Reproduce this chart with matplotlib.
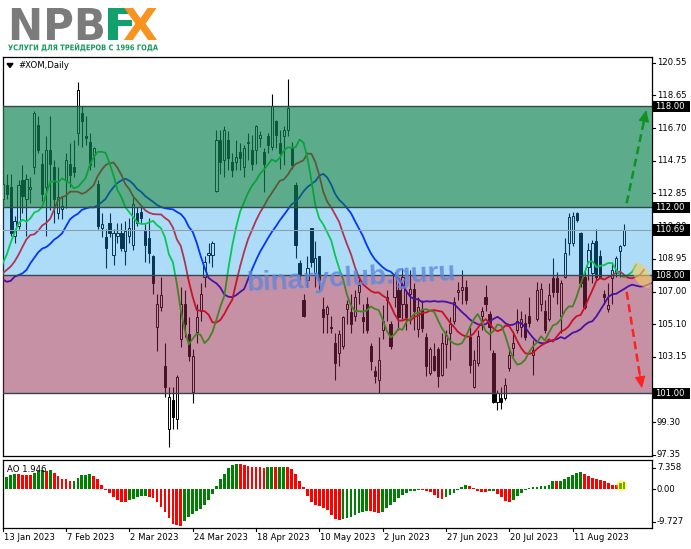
import numpy as np
import matplotlib
matplotlib.use("Agg")
import matplotlib.pyplot as plt
from matplotlib.patches import Rectangle, Ellipse, Circle, PathPatch, Polygon
from matplotlib.textpath import TextPath
from matplotlib.font_manager import FontProperties
from matplotlib.transforms import Affine2D

W, H, DPI = 691, 549, 100

# ---------------- data ----------------
symbol = "#XOM,Daily"
date_labels = ["13 Jan 2023", "7 Feb 2023", "2 Mar 2023", "24 Mar 2023", "18 Apr 2023",
               "10 May 2023", "2 Jun 2023", "27 Jun 2023", "20 Jul 2023", "11 Aug 2023"]
date_bars = [0, 16, 32, 48, 64, 80, 96, 112, 128, 144]

opens = [112.5,113.3,113.2,110.3,110.9,113.6,112.5,113.1,114.4,116.9,
         114.6,113.2,115.4,114.4,111.7,111.9,113.6,114.6,114.4,116.4,
         117.6,116.2,115.9,115.1,113.4,110.8,110.27,111.1,109.2,110.3,
         110.5,109.4,110.3,109.8,111.7,111.75,110.6,110.2,109.1,104.9,
         106.1,102.6,98.9,100.6,99.5,104.2,106.3,104.5,101.1,104.6,
         105.9,107.9,109.2,109.2,113.0,116.0,114.8,116.0,114.7,114.7,
         115.3,114.4,115.8,115.4,115.4,116.1,115.3,116.2,115.6,117.1,
         115.8,116.2,116.6,115.5,113.3,108.7,106.5,107.7,110.8,108.1,
         109.1,106.0,105.7,104.9,103.96,103.4,103.8,106.0,105.8,105.6,
         107.0,105.5,106.3,103.8,102.3,101.8,104.75,106.5,105.1,106.7,
         107.1,106.3,106.3,106.9,107.2,104.8,106.0,104.35,102.2,103.2,
         103.6,102.1,103.9,104.55,105.3,107.0,107.1,107.3,104.35,101.4,
         102.8,105.6,106.7,105.7,103.37,100.5,100.7,100.7,102.5,103.66,
         104.75,104.9,105.14,105.6,103.27,105.4,106.3,105.9,105.4,107.8,
         107.8,105.6,107.9,109.9,109.9,111.65,110.47,107.9,108.5,108.1,
         110.0,109.1,106.9,106.0,107.8,108.1,109.4,109.8]
highs = [113.7,114.0,114.0,111.5,113.6,114.5,114.0,113.8,117.7,117.4,
         115.2,116.2,117.4,114.8,114.4,112.6,115.2,115.8,116.0,119.4,
         118.0,117.4,116.4,115.6,113.6,111.65,110.7,111.65,110.7,111.1,
         111.1,111.2,111.4,112.6,112.05,112.05,111.06,111.4,109.2,106.9,
         107.9,103.97,101.4,101.4,102.1,107.3,107.1,105.5,103.6,106.3,
         107.5,109.1,109.9,110.0,116.6,116.6,116.8,116.5,115.2,116.0,
         115.8,115.7,116.4,116.3,116.9,116.5,115.5,116.4,118.7,117.2,
         116.6,116.8,119.6,115.9,113.5,108.9,106.9,109.1,110.8,110.0,
         109.1,106.7,106.2,105.6,104.55,104.75,105.6,106.5,106.9,107.1,
         107.9,106.3,106.7,103.96,102.6,104.35,106.2,107.1,105.3,108.2,
         107.5,108.4,107.1,108.3,107.5,106.7,106.5,104.55,103.76,103.96,
         103.76,104.55,104.75,105.54,106.7,107.6,108.3,107.7,104.9,103.56,
         104.75,106.1,107.4,105.9,103.56,101.2,101.4,101.9,103.76,104.55,
         106.0,105.9,105.7,106.7,104.16,107.6,107.5,106.5,107.5,109.0,
         108.2,107.7,110.2,111.65,111.75,111.75,110.57,108.3,109.9,110.1,
         110.7,109.5,107.1,107.5,108.8,109.1,109.8,111.0]
lows = [112.2,112.5,110.3,109.9,110.7,111.7,110.3,112.25,114.0,115.2,
        112.4,110.3,111.85,111.1,111.3,111.3,111.95,113.2,113.8,115.7,
        115.6,115.7,114.2,114.4,110.7,110.27,108.4,110.27,108.6,109.9,
        109.4,108.6,109.9,109.5,110.9,111.06,108.8,108.7,106.9,103.5,
        105.9,100.78,97.85,98.9,98.9,103.75,104.35,102.9,100.4,103.96,
        105.3,107.3,108.7,108.5,112.9,114.0,113.8,114.2,113.8,114.2,
        114.2,113.8,114.8,114.2,114.6,115.6,112.9,115.2,115.4,115.5,
        114.3,114.5,116.2,114.3,109.0,107.7,105.5,107.3,108.5,107.3,
        107.1,104.55,104.55,104.55,101.8,102.6,103.6,105.1,104.55,105.3,
        106.3,104.55,104.55,102.4,101.6,101.0,104.2,105.3,103.6,106.1,
        104.75,105.4,104.75,105.1,104.75,104.35,104.65,102.0,102.09,102.3,
        101.4,102.0,102.5,102.97,105.1,106.5,106.3,106.3,102.2,101.3,
        102.6,104.75,105.9,103.56,100.4,100.0,100.1,100.6,102.3,103.2,
        104.55,104.35,104.16,104.95,102.09,105.3,105.9,104.55,105.3,106.7,
        106.3,104.55,107.8,109.2,109.7,111.16,107.3,106.0,107.7,107.5,
        107.7,107.8,106.3,105.8,106.3,107.9,107.9,109.7]
closes = [113.4,112.8,110.5,111.2,113.3,112.7,113.7,113.2,117.6,115.4,
          112.8,115.4,114.6,112.5,112.6,112.1,114.8,113.9,114.1,118.95,
          117.1,116.1,114.5,115.5,110.9,111.0,109.6,110.5,110.5,110.5,
          109.6,110.6,110.8,112.2,111.1,111.35,109.8,109.3,107.5,106.3,
          106.8,101.4,100.8,99.6,101.95,106.3,105.1,103.2,103.2,105.5,
          106.9,108.8,109.3,109.9,116.0,114.7,116.6,114.9,114.2,115.0,
          114.9,115.5,115.9,114.6,116.8,116.3,114.6,115.7,118.0,116.3,
          115.2,116.6,117.9,114.5,109.8,108.0,105.6,108.4,108.8,109.0,
          107.7,105.5,106.1,104.85,102.8,104.5,105.5,106.3,105.1,106.7,
          107.4,105.3,104.75,102.9,102.0,103.0,105.3,106.7,103.8,108.0,
          105.5,107.9,105.5,107.2,105.9,106.1,104.85,102.6,103.6,102.4,
          102.0,104.0,104.45,105.1,106.4,107.1,107.3,106.5,102.7,103.0,
          104.4,105.9,106.3,104.95,100.5,101.0,100.5,101.5,103.27,103.96,
          105.3,105.4,104.35,105.14,103.56,107.1,107.2,104.75,106.8,107.0,
          107.0,107.5,109.3,111.45,111.5,111.26,107.5,106.1,109.5,109.9,
          107.9,107.9,106.7,106.2,108.3,109.0,109.7,110.69]

# Alligator values visible at the left edge before the first computed point
lips_head = [108.7, 109.2, 109.9]                               # SMMA(5), shift 3
teeth_head = [108.1, 108.3, 108.5, 108.8, 109.2]                 # SMMA(8), shift 5
jaw_head = [107.75, 107.6, 107.65, 107.9, 108.0, 108.1, 108.3, 108.7]  # SMMA(13), shift 8

ao_values = [2.5, 3.1, 3.6, 3.8, 3.75, 3.6, 3.55, 3.5, 4.2, 4.6,
             4.8, 4.6, 4.9, 4.2, 3.3, 2.7, 2.5, 2.05, 2.2, 2.9,
             3.6, 3.7, 3.8, 3.3, 2.5, 1.2, -0.3, -0.95, -2.05, -2.6,
             -3.1, -3.15, -2.65, -2.4, -2.05, -1.8, -1.75, -2.0, -2.2, -3.1,
             -4.35, -5.6, -7.2, -8.6, -9.0, -9.1, -8.0, -6.9, -6.3, -5.45,
             -4.95, -3.9, -2.6, -1.2, 0.8, 2.5, 3.9, 5.3, 6.2, 6.3,
             6.28, 6.15, 5.9, 5.7, 5.65, 5.5, 5.45, 5.55, 5.65, 5.5,
             5.6, 5.7, 5.65, 5.05, 3.8, 2.2, 0.5, -1.8, -3.1, -3.95,
             -4.2, -4.6, -5.2, -6.5, -7.5, -7.6, -7.5, -7.3, -6.9, -6.5,
             -6.05, -5.6, -5.4, -5.45, -5.8, -6.05, -5.6, -4.8, -3.9, -3.1,
             -2.2, -1.55, -0.95, -0.5, -0.35, -0.2, -0.3, -0.5, -0.8, -1.35,
             -2.2, -2.5, -2.05, -1.55, -0.95, -0.1, 0.6, 1.0, 0.95, 0.35,
             -0.35, -0.7, -0.75, -0.5, -0.45, -1.2, -2.05, -2.9, -3.2, -2.6,
             -1.8, -0.95, -0.1, 0.35, 0.45, 0.6, 0.8, 0.95, 1.2, 2.05,
             2.0, 2.2, 2.7, 3.1, 3.6, 4.1, 4.4, 3.9, 3.3, 2.9,
             2.7, 2.4, 2.05, 1.6, 1.2, 1.15, 1.6, 1.946]

zone_levels = [118.00, 112.00, 108.00, 101.00]
bid_price = 110.69
price_ticks = [120.55, 118.65, 116.70, 114.75, 112.85, 110.90, 108.95, 107.00,
               105.10, 103.15, 99.30, 97.35]
ao_ticks = [7.358, 0.00, -9.727]

# ---------------- layout ----------------
MAIN_L, MAIN_R, MAIN_T, MAIN_B = 3, 652, 57, 456
AO_T, AO_B = 460, 528
Y_TOP, Y_BOT = 120.905, 97.29
X0, X1 = 0.076, 164.05

fig = plt.figure(figsize=(W / DPI, H / DPI), dpi=DPI)
fig.patch.set_facecolor("white")

ax = fig.add_axes([MAIN_L / W, 1 - MAIN_B / H, (MAIN_R - MAIN_L) / W, (MAIN_B - MAIN_T) / H])
aax = fig.add_axes([MAIN_L / W, 1 - AO_B / H, (MAIN_R - MAIN_L) / W, (AO_B - AO_T) / H])
ov = fig.add_axes([0, 0, 1, 1], zorder=10)
ov.set_xlim(0, W); ov.set_ylim(H, 0); ov.axis("off"); ov.patch.set_alpha(0)

for a in (ax, aax):
    a.set_xlim(X0, X1)
    a.set_xticks([]); a.set_yticks([])
    for s in a.spines.values():
        s.set_color("black"); s.set_linewidth(0.9)
ax.set_ylim(Y_BOT, Y_TOP)
aax.set_ylim(ao_ticks[2], ao_ticks[0])

o = np.array(opens); h = np.array(highs); l = np.array(lows); c = np.array(closes)
n = len(c)
x = np.arange(n)

# candles
ax.vlines(x, l, h, color="black", linewidth=0.8, zorder=2)
bull = c >= o
body_h = np.maximum(np.abs(c - o), 0.04)
ax.bar(x, body_h, bottom=np.minimum(o, c), width=0.55,
       color=np.where(bull, "white", "black"), edgecolor="black", linewidth=0.7, zorder=3)

# alligator (SMMA of median price)
median = (h + l) / 2
def smma(head, period, med):
    vals = list(head)
    prev = head[-1]
    for m in med:
        prev = (prev * (period - 1) + m) / period
        vals.append(prev)
    return np.array(vals)

jaw = smma(jaw_head, 13, median)
teeth = smma(teeth_head, 8, median)
lips = smma(lips_head, 5, median)
ax.plot(np.arange(len(jaw)), jaw, color="#0000ff", lw=1.3, zorder=4)
ax.plot(np.arange(len(teeth)), teeth, color="#ff0000", lw=1.3, zorder=4)
ax.plot(np.arange(len(lips)), lips, color="#00e000", lw=1.3, zorder=4)

# zones (semi-transparent overlays)
zones = [(zone_levels[1], zone_levels[0], (0.06, 0.52, 0.33), 0.68),
         (zone_levels[2], zone_levels[1], (0.08, 0.61, 0.94), 0.35),
         (zone_levels[3], zone_levels[2], (0.56, 0.14, 0.30), 0.50)]
for lo, hi, col, al in zones:
    ax.add_patch(Rectangle((X0, lo), X1 - X0, hi - lo, facecolor=col, alpha=al,
                           edgecolor="none", zorder=5))
for lv in zone_levels:
    ax.axhline(lv, color="#34474f", lw=1.0, zorder=6)
ax.axhline(bid_price, color="#8ea0b0", lw=0.8, zorder=6)

# arrows
last = n - 1
def dashed_arrow(x0, y0, x1, y1, col):
    ax.plot([x0, x0 + (x1 - x0) * 0.9], [y0, y0 + (y1 - y0) * 0.9], color=col, lw=1.8,
            ls=(0, (3.2, 1.8)), zorder=7, solid_capstyle="butt")
    ax.annotate("", xy=(x1, y1), xytext=(x0 + (x1 - x0) * 0.85, y0 + (y1 - y0) * 0.85),
                arrowprops=dict(arrowstyle="-|>,head_length=0.7,head_width=0.32",
                                color=col, lw=1.0, shrinkA=0, shrinkB=0,
                                mutation_scale=10), zorder=7)
dashed_arrow(last + 0.65, 112.25, last + 5.6, 117.77, "#129022")
dashed_arrow(last + 0.65, 107.0, last + 4.5, 101.3, "#ff2020")

def to_px(axis, xv, yv):
    dx, dy = axis.transData.transform((xv, yv))
    return dx, H - dy

# highlight ellipse and AO circle
ex, ey = to_px(ax, last + 4.5, zone_levels[2])
ov.add_patch(Ellipse((ex, ey), 15, 28, angle=-30, facecolor="#f4cc5c", alpha=0.6,
                     edgecolor="none", zorder=3))
cx, cy = to_px(aax, last - 0.6, 0.9)
ov.add_patch(Circle((cx, cy), 5.5, facecolor="#ffe600", alpha=0.45, edgecolor="none", zorder=3))

# AO histogram
ao = np.array(ao_values)
ao_col = ["#008000" if i == 0 or ao[i] > ao[i - 1] else "#ff0000" for i in range(len(ao))]
aax.bar(np.arange(len(ao)), ao, width=0.7, color=ao_col, linewidth=0, zorder=2)

# ---------------- text ----------------
FS = 6.1
FONT = "DejaVu Sans"
for p in price_ticks:
    _, py = to_px(ax, 0, p)
    ov.plot([MAIN_R, MAIN_R + 3], [py, py], color="black", lw=0.8, zorder=1)
    ov.text(MAIN_R + 5, py, f"{p:.2f}", fontsize=FS, family=FONT, va="center", ha="left", zorder=1)

for lv in zone_levels[:2] + [bid_price] + zone_levels[2:]:
    _, py = to_px(ax, 0, lv)
    ov.add_patch(Rectangle((MAIN_R + 1, py - 5.5), 37, 11.5, facecolor="black", edgecolor="none", zorder=4))
    ov.text(MAIN_R + 3.5, py + 0.3, f"{lv:.2f}", fontsize=FS, family=FONT, va="center", ha="left",
            color="white", zorder=5)

ao_label_px = [AO_T + 7.5, None, AO_B - 6.5]
for v, lp in zip(ao_ticks, ao_label_px):
    _, py = to_px(aax, 0, v)
    if lp is not None:
        py = lp
    ov.plot([MAIN_R, MAIN_R + 3], [py, py], color="black", lw=0.8)
    ov.text(MAIN_R + 5, py, f"{v:.3f}" if v != 0 else "0.00", fontsize=FS, family=FONT,
            va="center", ha="left")

for b, lab in zip(date_bars, date_labels):
    px, _ = to_px(aax, b, 0)
    ov.plot([px, px], [AO_B, AO_B + 3], color="black", lw=0.8)
    ov.text(px + 1, 537.5, lab, fontsize=FS, family=FONT, va="center", ha="left")

ov.add_patch(Polygon([[7, 63.5], [13, 63.5], [10, 67.5]], closed=True, color="black"))
ov.text(18, 65.5, symbol, fontsize=FS, family=FONT, va="center", ha="left")
ov.text(7, 469, f"AO {ao_values[-1]:.3f}", fontsize=FS, family=FONT, va="center", ha="left")

# watermark
ov.text(351, 279, "binaryclub.guru", fontsize=20, family="Liberation Sans", weight="bold",
        color="#5f86dc", alpha=0.8, rotation=3, ha="center", va="center", zorder=2)

# logo via text paths
def fit_text(s, x0, x1, ytop, ybot, color, weight="bold"):
    fp = FontProperties(family=FONT, weight=weight)
    tp = TextPath((0, 0), s, size=10, prop=fp)
    v = tp.vertices
    bx0, by0, bx1, by1 = v[:, 0].min(), v[:, 1].min(), v[:, 0].max(), v[:, 1].max()
    sx = (x1 - x0) / (bx1 - bx0); sy = (ybot - ytop) / (by1 - by0)
    tr = Affine2D().translate(-bx0, -by1).scale(sx, -sy).translate(x0, ytop)
    ov.add_patch(PathPatch(tr.transform_path(tp), facecolor=color, edgecolor="none", zorder=6))

fit_text("NPB", 8, 103, 8, 40, "#7b7b7b")
fit_text("F", 104, 133, 8, 40, "#12a06c")
fit_text("X", 123, 157, 8, 40, "#f7931e")
fit_text("УСЛУГИ ДЛЯ ТРЕЙДЕРОВ С 1996 ГОДА", 8, 158, 43, 51.5, "#17995e")

fig.savefig("out.png", dpi=DPI, facecolor="white")
